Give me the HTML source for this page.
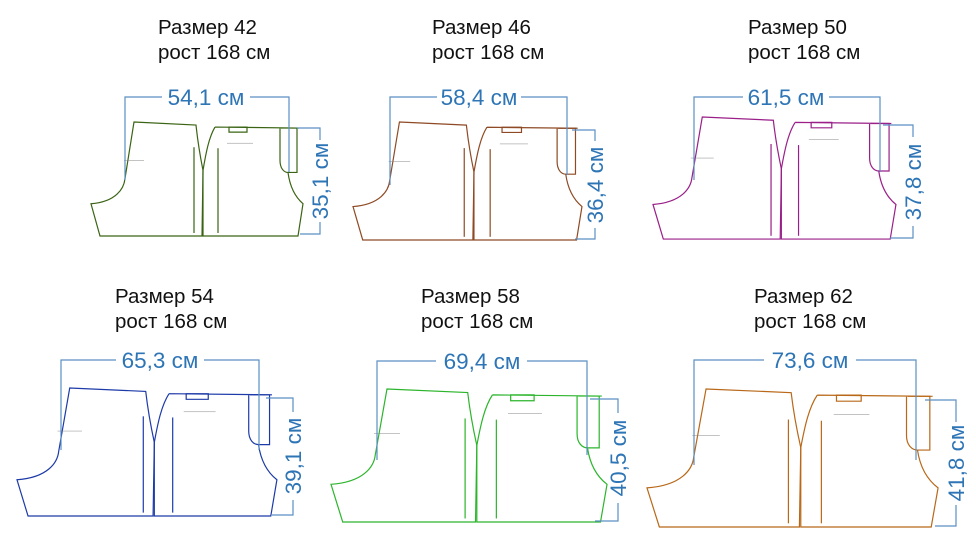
<!DOCTYPE html>
<html><head><meta charset="utf-8"><style>
html,body{margin:0;padding:0;background:#fff;}
svg{display:block;}
.t{font-family:"Liberation Sans",sans-serif;font-size:20.5px;fill:#111;}
.d{font-family:"Liberation Sans",sans-serif;font-size:22.5px;fill:#2e75b6;}
.dl{stroke:#5b8fc4;stroke-width:1.2;fill:none;}
</style></head><body>
<svg width="976" height="537" viewBox="0 0 976 537" xmlns="http://www.w3.org/2000/svg">
<defs>
<g id="pat" fill="none" stroke="currentColor" stroke-width="1.2">
<path vector-effect="non-scaling-stroke" d="M43,0 L105,3 C107,22 110,38 112,48 L111,113 L9,113 L0,81 C25,79 33,66 34,56 Z"/>
<path vector-effect="non-scaling-stroke" d="M103,25 L103,110"/>
<path vector-effect="non-scaling-stroke" d="M124,5 L208,6 M189,6 L189,38 C189,46 193,50 197,50 C199,65 205,75 212,81 L207,113 L112,113 L112,48 C115,30 118,15 124,5"/>
<path vector-effect="non-scaling-stroke" d="M190,6 L206,6 L206,50 L197,50"/>
<path vector-effect="non-scaling-stroke" d="M127,26 L127,110"/>
<rect vector-effect="non-scaling-stroke" x="138" y="5" width="18" height="5"/>
<path vector-effect="non-scaling-stroke" stroke="#888" stroke-width="0.5" d="M33,38 L53,38 M136,21 L162,21"/>
</g>
</defs>

<text class="t" x="158" y="34">Размер 42</text><text class="t" x="158" y="59">рост 168 см</text>
<text class="t" x="432" y="34">Размер 46</text><text class="t" x="432" y="59">рост 168 см</text>
<text class="t" x="748" y="34">Размер 50</text><text class="t" x="748" y="59">рост 168 см</text>
<text class="t" x="115" y="303">Размер 54</text><text class="t" x="115" y="328">рост 168 см</text>
<text class="t" x="421" y="303">Размер 58</text><text class="t" x="421" y="328">рост 168 см</text>
<text class="t" x="754" y="303">Размер 62</text><text class="t" x="754" y="328">рост 168 см</text>

<use href="#pat" style="color:#3a6414" transform="translate(91,122) scale(1,1.009)"/>
<use href="#pat" style="color:#8e4a24" transform="translate(353,122) scale(1.080,1.044)"/>
<use href="#pat" style="color:#9a1f88" transform="translate(653,117) scale(1.146,1.080)"/>
<use href="#pat" style="color:#1c3aa8" transform="translate(17,388) scale(1.226,1.133)"/>
<use href="#pat" style="color:#2cb52c" transform="translate(331,389) scale(1.302,1.177)"/>
<use href="#pat" style="color:#b86818" transform="translate(647,389) scale(1.373,1.221)"/>

<path class="dl" d="M125,180 V97 H162 M250,97 H289 V172"/>
<text class="d" x="206" y="105" text-anchor="middle">54,1 см</text>
<path class="dl" d="M297,128 H320 V140 M320,222 V234 H300"/>
<text class="d" transform="translate(328,181) rotate(-90)" text-anchor="middle">35,1 см</text>

<path class="dl" d="M390,185 V97 H437 M521,97 H567 V175"/>
<text class="d" x="479" y="105" text-anchor="middle">58,4 см</text>
<path class="dl" d="M572,130 H595 V141 M595,228 V239 H575"/>
<text class="d" transform="translate(603,185) rotate(-90)" text-anchor="middle">36,4 см</text>

<path class="dl" d="M694,180 V97 H743 M829,97 H880 V172"/>
<text class="d" x="786" y="105" text-anchor="middle">61,5 см</text>
<path class="dl" d="M883,125 H913 V137 M913,226 V238 H890"/>
<text class="d" transform="translate(921,182) rotate(-90)" text-anchor="middle">37,8 см</text>

<path class="dl" d="M61,450 V360 H116 M204,360 H259 V450"/>
<text class="d" x="160" y="368" text-anchor="middle">65,3 см</text>
<path class="dl" d="M266,398 H293 V412 M293,500 V515 H272"/>
<text class="d" transform="translate(301,456) rotate(-90)" text-anchor="middle">39,1 см</text>

<path class="dl" d="M377,460 V361 H436 M527,361 H587 V455"/>
<text class="d" x="482" y="369" text-anchor="middle">69,4 см</text>
<path class="dl" d="M590,399 H618 V413 M618,503 V521 H595"/>
<text class="d" transform="translate(626,458) rotate(-90)" text-anchor="middle">40,5 см</text>

<path class="dl" d="M694,465 V360 H764 M856,360 H916 V460"/>
<text class="d" x="810" y="368" text-anchor="middle">73,6 см</text>
<path class="dl" d="M925,400 H956 V422 M956,505 V526 H935"/>
<text class="d" transform="translate(964,463) rotate(-90)" text-anchor="middle">41,8 см</text>
</svg>
</body></html>
